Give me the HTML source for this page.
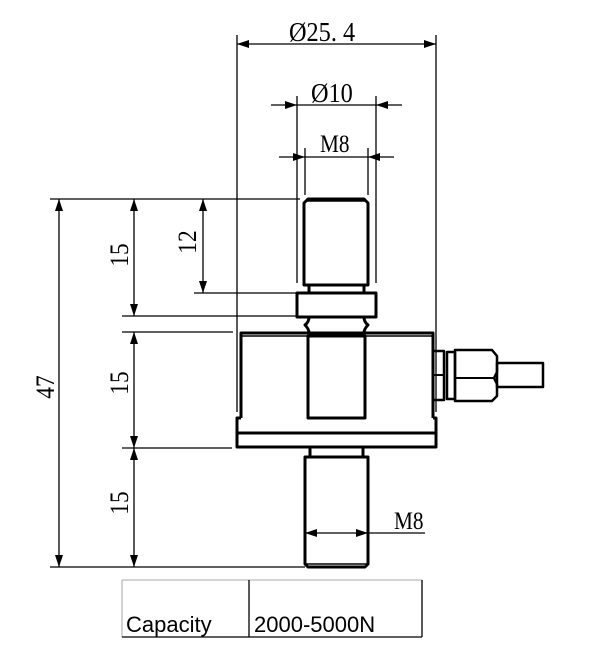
<!DOCTYPE html>
<html><head><meta charset="utf-8"><style>
html,body{margin:0;padding:0;background:#fff;}
svg{display:block;}
.t{font-family:"Liberation Serif",serif;fill:#000;}
</style></head><body>
<svg width="608" height="661" viewBox="0 0 608 661" xmlns="http://www.w3.org/2000/svg">
<defs>
<marker id="a" viewBox="0 0 12 8" refX="12" refY="4" markerWidth="12" markerHeight="8" markerUnits="userSpaceOnUse" orient="auto">
<path d="M0,0 L12,4 L0,8 z" fill="#000"/></marker>
</defs>
<g stroke="#000" stroke-width="1.3" fill="none">
<line x1="237" y1="35" x2="237" y2="412"/>
<line x1="436" y1="35" x2="436" y2="412"/>
<line x1="297" y1="96" x2="297" y2="283"/>
<line x1="376" y1="96" x2="376" y2="283"/>
<line x1="305" y1="148" x2="305" y2="195"/>
<line x1="368" y1="148" x2="368" y2="195"/>
<line x1="336" y1="44" x2="237" y2="44" marker-end="url(#a)"/>
<line x1="336" y1="44" x2="436" y2="44" marker-end="url(#a)"/>
<line x1="271" y1="105" x2="297" y2="105" marker-end="url(#a)"/>
<line x1="402" y1="105" x2="376" y2="105" marker-end="url(#a)"/>
<line x1="297" y1="105" x2="376" y2="105"/>
<line x1="279" y1="157" x2="305" y2="157" marker-end="url(#a)"/>
<line x1="394" y1="157" x2="368" y2="157" marker-end="url(#a)"/>
<line x1="305" y1="157" x2="368" y2="157"/>
<line x1="50" y1="199" x2="300" y2="199"/>
<line x1="50" y1="567" x2="305" y2="567"/>
<line x1="122" y1="316" x2="298" y2="316"/>
<line x1="122" y1="332" x2="233" y2="332"/>
<line x1="122" y1="448" x2="232" y2="448"/>
<line x1="194" y1="293" x2="298" y2="293"/>
<line x1="59" y1="383" x2="59" y2="199" marker-end="url(#a)"/>
<line x1="59" y1="383" x2="59" y2="567" marker-end="url(#a)"/>
<line x1="134" y1="258" x2="134" y2="199" marker-end="url(#a)"/>
<line x1="134" y1="258" x2="134" y2="316" marker-end="url(#a)"/>
<line x1="134" y1="390" x2="134" y2="332" marker-end="url(#a)"/>
<line x1="134" y1="390" x2="134" y2="448" marker-end="url(#a)"/>
<line x1="134" y1="508" x2="134" y2="448" marker-end="url(#a)"/>
<line x1="134" y1="508" x2="134" y2="567" marker-end="url(#a)"/>
<line x1="203" y1="246" x2="203" y2="199" marker-end="url(#a)"/>
<line x1="203" y1="246" x2="203" y2="293" marker-end="url(#a)"/>
<line x1="336" y1="533" x2="305" y2="533" marker-end="url(#a)"/>
<line x1="336" y1="533" x2="368" y2="533" marker-end="url(#a)"/>
<line x1="368" y1="533" x2="425" y2="533"/>
</g>
<g stroke="#000" stroke-width="3" fill="none" stroke-linejoin="round">
<path d="M304,285 L304,203 L308,199 L364,199 L368,203 L368,285 Z"/>
<line x1="306" y1="201" x2="366" y2="201" stroke-width="1.5"/>
<path d="M309,285 L309,293 M364,285 L364,293"/>
<rect x="297" y="293" width="79" height="24"/>
<path d="M309,317 Q309,322 305,325 Q309,329 309,333 M364,317 Q364,322 368,325 Q364,329 364,333"/>
<path d="M241,418 L241,333 L433,333 L433,418"/>
<line x1="241" y1="336" x2="433" y2="336" stroke-width="1.5"/>
<path d="M241,418 L237,418 L237,447 L436,447 L436,418 L433,418"/>
<line x1="237" y1="433" x2="436" y2="433"/>
<rect x="308" y="336" width="57" height="82"/>
<path d="M310,448 L310,457 M363,448 L363,457"/>
<path d="M305,457 L305,564 L308,567 L365,567 L368,564 L368,457 Z"/>
<line x1="306" y1="564" x2="367" y2="564" stroke-width="1.5"/>
<rect x="433" y="351" width="11" height="49" stroke-width="2.5"/>
<line x1="433" y1="375" x2="444" y2="375" stroke-width="2"/>
<rect x="447" y="352" width="8" height="47" stroke-width="2.5"/>
<path d="M455,350 L492,350 L497,356 L497,372 L494,378 L497,384 L497,396 L492,401 L455,401 Z" stroke-width="2.5"/>
<line x1="455" y1="378" x2="494" y2="378" stroke-width="2"/>
<rect x="497" y="363" width="46" height="24" stroke-width="2.5"/>
</g>
<g stroke-width="1.3" fill="none">
<line x1="122" y1="580" x2="422" y2="580" stroke="#bbb"/>
<line x1="122" y1="580" x2="122" y2="637" stroke="#bbb"/>
<line x1="122" y1="637" x2="422" y2="637" stroke="#000"/>
<line x1="249" y1="580" x2="249" y2="637" stroke="#000"/>
<line x1="422" y1="580" x2="422" y2="637" stroke="#000"/>
</g>
<text x="126" y="632" font-family="Liberation Sans, sans-serif" font-size="22" fill="#000">Capacity</text>
<text x="254" y="632" font-family="Liberation Sans, sans-serif" font-size="22" fill="#000">2000-5000N</text>
<text class="t" font-size="27" transform="translate(289,41) scale(0.9,1)">Ø25. 4</text>
<text class="t" font-size="27" transform="translate(311,102) scale(0.9,1)">Ø10</text>
<text class="t" font-size="25" transform="translate(320,152) scale(0.85,1)">M8</text>
<text class="t" font-size="25" transform="translate(394,529) scale(0.85,1)">M8</text>
<text class="t" font-size="26" transform="translate(54,387) rotate(-90) scale(0.9,1)" text-anchor="middle">47</text>
<text class="t" font-size="26" transform="translate(128,255) rotate(-90) scale(0.9,1)" text-anchor="middle">15</text>
<text class="t" font-size="26" transform="translate(128,383) rotate(-90) scale(0.9,1)" text-anchor="middle">15</text>
<text class="t" font-size="26" transform="translate(128,503) rotate(-90) scale(0.9,1)" text-anchor="middle">15</text>
<text class="t" font-size="26" transform="translate(196,242) rotate(-90) scale(0.9,1)" text-anchor="middle">12</text>
</svg>
</body></html>
